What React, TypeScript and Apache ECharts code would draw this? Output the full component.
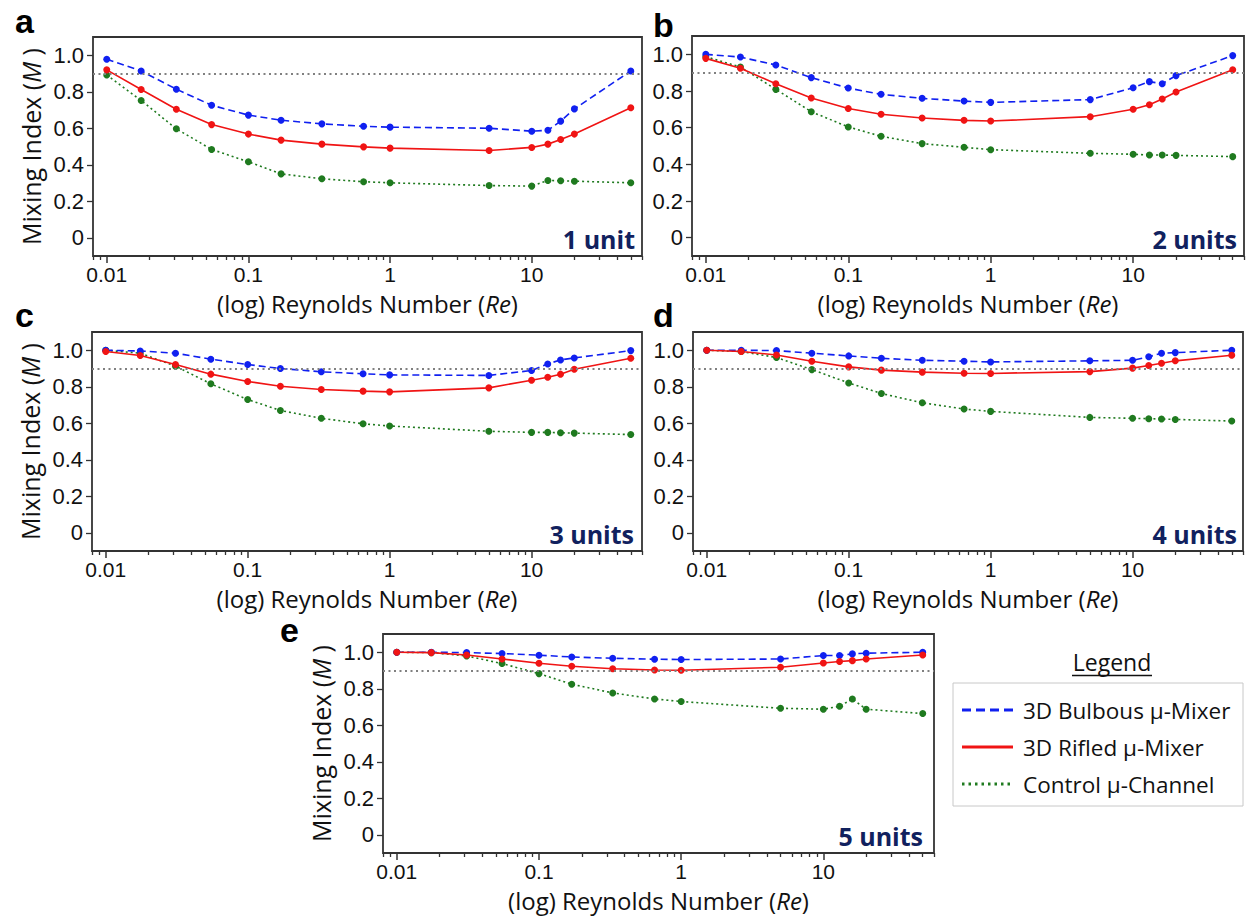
import React, { useEffect, useRef } from "react";
import * as echarts from "echarts";

// ---------- data ----------
const RE = [0.01, 0.0175, 0.031, 0.055, 0.1, 0.17, 0.33, 0.65, 1, 5, 10, 13, 16, 20, 50];

const A_BULB = [0.978, 0.914, 0.814, 0.726, 0.672, 0.644, 0.624, 0.611, 0.606, 0.6, 0.584, 0.589, 0.639, 0.706, 0.914];
const A_RIFL = [0.92, 0.812, 0.704, 0.62, 0.568, 0.535, 0.513, 0.498, 0.491, 0.478, 0.495, 0.513, 0.538, 0.568, 0.712];
const A_CTRL = [0.892, 0.752, 0.597, 0.484, 0.416, 0.35, 0.323, 0.307, 0.301, 0.286, 0.283, 0.314, 0.312, 0.31, 0.301];

const B_BULB = [1.0, 0.985, 0.942, 0.873, 0.816, 0.782, 0.76, 0.745, 0.738, 0.753, 0.818, 0.851, 0.84, 0.884, 0.993];
const B_RIFL = [0.978, 0.924, 0.84, 0.762, 0.705, 0.673, 0.653, 0.64, 0.636, 0.66, 0.7, 0.725, 0.756, 0.795, 0.916];
const B_CTRL = [0.987, 0.931, 0.809, 0.687, 0.604, 0.553, 0.513, 0.493, 0.48, 0.46, 0.455, 0.451, 0.451, 0.449, 0.442];

const C_BULB = [1.0, 0.996, 0.984, 0.951, 0.922, 0.9, 0.882, 0.871, 0.865, 0.862, 0.889, 0.925, 0.947, 0.958, 0.998];
const C_RIFL = [0.993, 0.971, 0.922, 0.869, 0.829, 0.803, 0.785, 0.776, 0.772, 0.794, 0.836, 0.852, 0.869, 0.896, 0.956];
const C_CTRL = [1.0, 0.984, 0.913, 0.816, 0.73, 0.67, 0.627, 0.597, 0.585, 0.556, 0.55, 0.55, 0.548, 0.546, 0.538];

const D_BULB = [1.0, 1.0, 0.998, 0.984, 0.969, 0.956, 0.945, 0.94, 0.936, 0.942, 0.945, 0.964, 0.984, 0.987, 1.0];
const D_RIFL = [1.0, 0.993, 0.974, 0.94, 0.909, 0.891, 0.88, 0.874, 0.873, 0.883, 0.902, 0.916, 0.929, 0.942, 0.973];
const D_CTRL = [1.0, 0.993, 0.96, 0.894, 0.821, 0.763, 0.712, 0.678, 0.665, 0.632, 0.627, 0.625, 0.623, 0.621, 0.612];

const E_BULB = [1.0, 1.0, 0.998, 0.993, 0.984, 0.974, 0.967, 0.962, 0.96, 0.963, 0.982, 0.982, 0.991, 0.995, 1.0];
const E_RIFL = [1.0, 0.998, 0.985, 0.963, 0.94, 0.923, 0.91, 0.903, 0.901, 0.918, 0.941, 0.949, 0.954, 0.963, 0.985];
const E_CTRL = [1.0, 0.998, 0.98, 0.938, 0.883, 0.825, 0.777, 0.744, 0.73, 0.693, 0.688, 0.704, 0.744, 0.688, 0.664];

const THRESHOLD = 0.9;

const X_MIN = 0.008;
const X_MAX = 60;
const X_MAJOR_TICKS = [0.01, 0.1, 1, 10];
const X_MAJOR_LABELS = ["0.01", "0.1", "1", "10"];
const X_MINOR_TICKS = [
  0.008, 0.009,
  0.02, 0.03, 0.04, 0.05, 0.06, 0.07, 0.08, 0.09,
  0.2, 0.3, 0.4, 0.5, 0.6, 0.7, 0.8, 0.9,
  2, 3, 4, 5, 6, 7, 8, 9,
  20, 30, 40, 50, 60,
];
const Y_MIN = -0.1;
const Y_MAX = 1.1;
const Y_TICKS = [0, 0.2, 0.4, 0.6, 0.8, 1.0];
const Y_TICK_LABELS = ["0", "0.2", "0.4", "0.6", "0.8", "1.0"];

const SERIES_NAMES = ["3D Bulbous μ-Mixer", "3D Rifled μ-Mixer", "Control μ-Channel"];
const PANEL_LETTERS = ["a", "b", "c", "d", "e"];
const PANEL_UNITS = ["1 unit", "2 units", "3 units", "4 units", "5 units"];
const PANEL_HAS_YTITLE = [true, false, true, false, true];
const BULB = [A_BULB, B_BULB, C_BULB, D_BULB, E_BULB];
const RIFL = [A_RIFL, B_RIFL, C_RIFL, D_RIFL, E_RIFL];
const CTRL = [A_CTRL, B_CTRL, C_CTRL, D_CTRL, E_CTRL];

// ---------- styles / layout ----------
const BLUE = "#1020f0";
const RED = "#f01414";
const GREEN = "#1f7a1f";
const NAVY = "#11215e";
const AXIS = "#333333";
const TICK_FONT = "Liberation Sans";
const TEXT_FONT = "Open Sans";

const GRIDS = [
  { left: 93, top: 37, width: 549, height: 219 },
  { left: 692, top: 36, width: 552, height: 220 },
  { left: 92, top: 332, width: 550, height: 219 },
  { left: 693, top: 332, width: 550, height: 219 },
  { left: 383, top: 634, width: 551, height: 219 },
];
const LETTER_POS = [
  [15, 21],
  [653, 25],
  [15, 315],
  [653, 315],
  [280, 630],
];
const UNIT_INSET = [7, 7, 8, 6, 11];

function buildOption() {
  const grid: any[] = [];
  const xAxis: any[] = [];
  const yAxis: any[] = [];
  const series: any[] = [];
  const graphic: any[] = [];

  GRIDS.forEach((g, i) => {
    grid.push({
      left: g.left,
      top: g.top,
      width: g.width,
      height: g.height,
      show: true,
      borderColor: AXIS,
      borderWidth: 1.8,
      backgroundColor: "transparent",
    });
    // log axis: data + labels
    xAxis.push({
      type: "log",
      logBase: 10,
      gridIndex: i,
      position: "bottom",
      min: X_MIN,
      max: X_MAX,
      axisLine: { show: false, onZero: false },
      axisTick: { show: false },
      splitLine: { show: false },
      axisLabel: {
        showMinLabel: false,
        showMaxLabel: false,
        margin: 8,
        fontFamily: TICK_FONT,
        fontSize: 21,
        lineHeight: 20,
        color: "#111",
        formatter: (v: number) => {
          const k = X_MAJOR_TICKS.findIndex((t) => Math.abs(Math.log10(t) - Math.log10(v)) < 1e-6);
          return k >= 0 ? X_MAJOR_LABELS[k] : "";
        },
      },
      name: "(log) Reynolds Number ({i|Re})",
      nameLocation: "middle",
      nameGap: 35,
      nameTextStyle: {
        fontFamily: TEXT_FONT,
        fontSize: 24,
        lineHeight: 24,
        color: "#111",
        rich: { i: { fontFamily: TEXT_FONT, fontSize: 24, lineHeight: 24, fontStyle: "italic", color: "#111" } },
      },
    });
    // major ticks (decades)
    xAxis.push({
      type: "value",
      gridIndex: i,
      position: "bottom",
      offset: 0,
      min: Math.log10(X_MIN),
      max: Math.log10(X_MAX),
      axisLine: { show: false, onZero: false },
      axisLabel: { show: false },
      splitLine: { show: false },
      axisTick: {
        show: true,
        customValues: X_MAJOR_TICKS.map((t) => Math.log10(t)),
        length: 7,
        lineStyle: { color: AXIS, width: 1.5 },
      },
    });
    // minor ticks
    xAxis.push({
      type: "value",
      gridIndex: i,
      position: "bottom",
      offset: 0,
      min: Math.log10(X_MIN),
      max: Math.log10(X_MAX),
      axisLine: { show: false, onZero: false },
      axisLabel: { show: false },
      splitLine: { show: false },
      axisTick: {
        show: true,
        customValues: X_MINOR_TICKS.map((t) => Math.log10(t)),
        length: 4,
        lineStyle: { color: AXIS, width: 1.3 },
      },
    });
    yAxis.push({
      type: "value",
      gridIndex: i,
      position: "left",
      min: Y_MIN,
      max: Y_MAX,
      axisLine: { show: false, onZero: false },
      splitLine: { show: false },
      axisTick: {
        show: true,
        customValues: Y_TICKS,
        length: 6,
        lineStyle: { color: AXIS, width: 1.3 },
      },
      axisLabel: {
        customValues: Y_TICKS,
        margin: 9,
        fontFamily: TICK_FONT,
        fontSize: 22,
        lineHeight: 20,
        color: "#111",
        formatter: (v: number) => {
          const k = Y_TICKS.findIndex((t) => Math.abs(t - v) < 1e-6);
          return k >= 0 ? Y_TICK_LABELS[k] : "";
        },
      },
      name: PANEL_HAS_YTITLE[i] ? "Mixing Index ({i|M} )" : "",
      nameLocation: "middle",
      nameGap: 50,
      nameTextStyle: {
        fontFamily: TEXT_FONT,
        fontSize: 25,
        lineHeight: 24,
        color: "#111",
        rich: { i: { fontFamily: TEXT_FONT, fontSize: 25, lineHeight: 24, fontStyle: "italic", color: "#111" } },
      },
    });

    const mk = (name: string, vals: number[], color: string, type: any, extra: any = {}) => ({
      name,
      type: "line",
      xAxisIndex: i * 3,
      yAxisIndex: i,
      data: RE.map((r, k) => [r, vals[k]]),
      symbol: "circle",
      symbolSize: 7,
      itemStyle: { color },
      lineStyle: { color, width: 1.6, type },
      emphasis: { disabled: true },
      ...extra,
    });

    series.push(
      mk(SERIES_NAMES[2], CTRL[i], GREEN, [2, 3], {
        markLine: {
          silent: true,
          symbol: ["none", "none"],
          label: { show: false },
          lineStyle: { color: "#808080", type: [2, 3.5], width: 2 },
          data: [{ yAxis: THRESHOLD }],
        },
      }),
      mk(SERIES_NAMES[0], BULB[i], BLUE, [7, 4]),
      mk(SERIES_NAMES[1], RIFL[i], RED, "solid")
    );

    // panel letter
    graphic.push({
      type: "text",
      x: LETTER_POS[i][0],
      y: LETTER_POS[i][1],
      style: {
        text: PANEL_LETTERS[i],
        font: 'bold 34px "Liberation Sans"',
        fill: "#000",
        align: "left",
        verticalAlign: "middle",
      },
    });
    // unit label
    graphic.push({
      type: "text",
      x: g.left + g.width - UNIT_INSET[i],
      y: g.top + g.height - 17,
      z: 10,
      style: {
        text: PANEL_UNITS[i],
        font: 'bold 25px "Open Sans"',
        fill: NAVY,
        align: "right",
        verticalAlign: "middle",
      },
    });
  });

  // legend (drawn panel)
  const LX = 953;
  const LY = 683;
  graphic.push({
    type: "text",
    x: 1112,
    y: 662,
    style: {
      text: "Legend",
      font: '23px "Open Sans"',
      fill: "#111",
      align: "center",
      verticalAlign: "middle",
    },
  });
  graphic.push({
    type: "line",
    shape: { x1: 1072, y1: 675.5, x2: 1152, y2: 675.5 },
    style: { stroke: "#111", lineWidth: 1.3 },
  });
  graphic.push({
    type: "rect",
    shape: { x: LX, y: LY, width: 290, height: 123 },
    style: { fill: "#fff", stroke: "#c8c8c8", lineWidth: 1 },
  });
  const legendRows = [
    { name: SERIES_NAMES[0], color: BLUE, dash: [9, 5], y: 710 },
    { name: SERIES_NAMES[1], color: RED, dash: null, y: 747 },
    { name: SERIES_NAMES[2], color: GREEN, dash: [2.5, 4], y: 784 },
  ];
  legendRows.forEach((r) => {
    graphic.push({
      type: "line",
      shape: { x1: 962, y1: r.y, x2: 1013, y2: r.y },
      style: { stroke: r.color, lineWidth: 3, lineDash: r.dash || undefined },
    });
    graphic.push({
      type: "text",
      x: 1023,
      y: r.y,
      style: {
        text: r.name,
        font: '22.5px "Open Sans"',
        fill: "#111",
        align: "left",
        verticalAlign: "middle",
      },
    });
  });

  return {
    animation: false,
    backgroundColor: "#ffffff",
    grid,
    xAxis,
    yAxis,
    series,
    graphic,
  };
}

export default function App() {
  const ref = useRef<HTMLDivElement>(null);
  useEffect(() => {
    if (!ref.current) return;
    const chart = echarts.init(ref.current, null, { renderer: "svg" });
    chart.setOption(buildOption() as any);
    return () => chart.dispose();
  }, []);
  return (
    <div
      ref={ref}
      style={{ position: "absolute", left: 0, top: 0, width: 1248, height: 918, background: "#fff" }}
    />
  );
}
